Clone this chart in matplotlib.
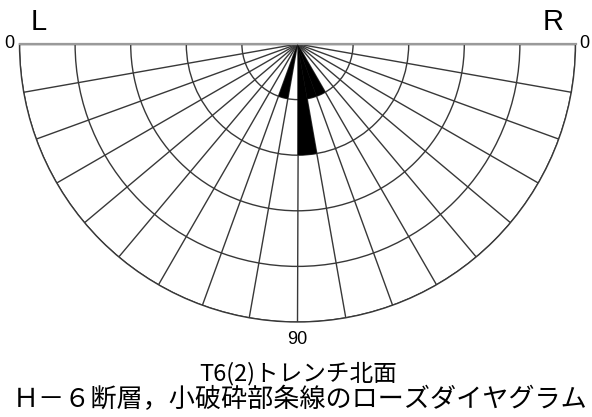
import numpy as np
import matplotlib
matplotlib.use("Agg")
import matplotlib.pyplot as plt

# 10 degree bins, angle measured from the horizontal (0) down to vertical (90)
bin_start = [0, 10, 20, 30, 40, 50, 60, 70, 80]
left_counts = [0, 0, 0, 0, 0, 0, 0, 1, 0]    # L side
right_counts = [0, 0, 0, 0, 0, 0, 1, 1, 2]   # R side
rings = [1, 2, 3, 4, 5]
title1 = "T6(2)トレンチ北面"
title2 = "Ｈ－６断層，小破砕部条線のローズダイヤグラム"

W, H = 592, 417
fig = plt.figure(figsize=(W / 100, H / 100), dpi=100)

# polar axes showing only the lower half; the wedge sits in the middle of a square box
R = 278
cx, cy = 297.5, 44
ax = fig.add_axes([(cx - R) / W, (H - (cy + R + R / 2)) / H, 2 * R / W, 2 * R / H],
                  projection="polar")
ax.set_thetamin(180)
ax.set_thetamax(360)
ax.set_ylim(0, rings[-1])
ax.set_rticks(rings)
ax.set_thetagrids(np.arange(180, 361, 10))
ax.set_xticklabels([])
ax.set_yticklabels([])
ax.tick_params(length=0)
ax.set_axisbelow(True)
ax.grid(color="#383838", lw=1.0)
ax.spines["polar"].set_color("#383838")
ax.spines["polar"].set_linewidth(1.0)
ax.spines["start"].set_color("#9a9a9a")
ax.spines["end"].set_color("#9a9a9a")
ax.spines["start"].set_linewidth(1.6)
ax.spines["end"].set_linewidth(1.6)

w = np.radians(10)
left_theta = np.radians([180 + b + 5 for b in bin_start])
right_theta = np.radians([360 - b - 5 for b in bin_start])
ax.bar(left_theta, left_counts, width=w, color="black", edgecolor="none", zorder=3)
ax.bar(right_theta, right_counts, width=w, color="black", edgecolor="none", zorder=3)

def px(x, y):
    return x / W, 1 - y / H

lat = ["Liberation Sans", "DejaVu Sans"]
fig.text(*px(39, 22), "L", fontsize=21, ha="center", va="center", family=lat)
fig.text(*px(553, 22), "R", fontsize=21, ha="center", va="center", family=lat)
fig.text(*px(9.5, 44), "0", fontsize=13, ha="center", va="center", family=lat)
fig.text(*px(584, 44), "0", fontsize=13, ha="center", va="center", family=lat)
fig.text(*px(297, 339), "90", fontsize=13, ha="center", va="center", family=lat)

cjk = ["Noto Sans CJK JP", "DejaVu Sans"]
fig.text(*px(298, 374), title1, fontsize=17, ha="center", va="center", family=cjk)
fig.text(*px(300, 400), title2, fontsize=18.8, ha="center", va="center", family=cjk)

fig.savefig("out.png", dpi=100)
